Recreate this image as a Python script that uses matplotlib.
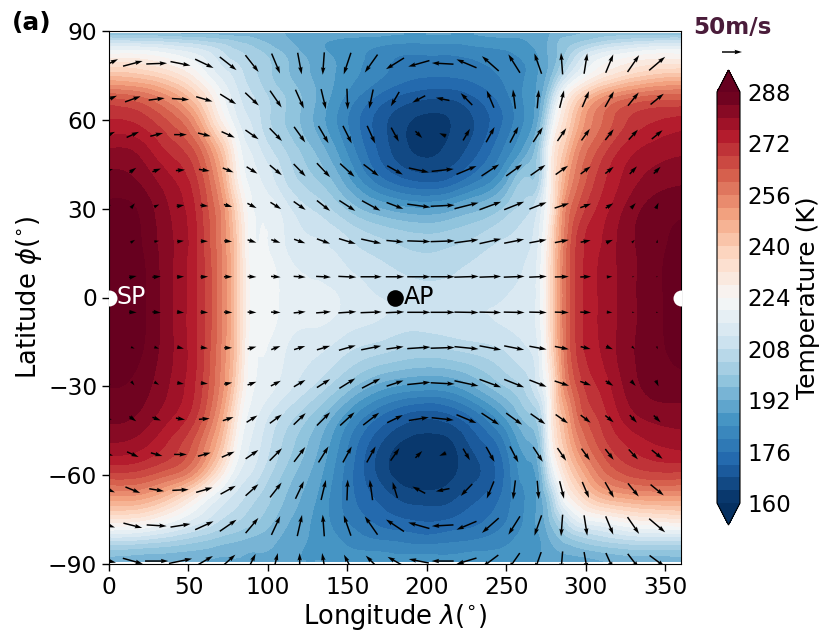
import numpy as np
import matplotlib
matplotlib.use("Agg")
import matplotlib.pyplot as plt
import matplotlib.tri as mtri

# Temperature field (K), read by eye
t_lon = [0,20,40,55,65,75,82,88,95,110,130,150,170,185,200,215,230,250,265,272,278,285,292,305,320,340,360]
t_lat = [89,86,82,76,68,60,50,40,30,20,10,0,-10,-20,-30,-40,-50,-60,-68,-76,-82,-86,-89]
T_n89 = [197,197,196,195,195,194,194,194,193,192,191,190,189,188,188,188,188,189,189,190,192,194,195,197,198,198,197]
T_n86 = [211,210,208,206,204,202,200,199,197,193,189,186,185,184,184,184,185,186,188,190,193,197,199,203,207,210,211]
T_n82 = [224,224,220,216,212,207,205,203,201,196,190,186,182,180,180,180,181,183,186,189,193,198,205,215,220,224,224]
T_n76 = [240,238,232,224,217,212,209,206,203,197,191,186,181,178,177,177,178,181,185,189,194,204,213,224,231,237,239]
T_n68 = [262,259,250,238,227,217,212,209,206,200,192,183,175,171,169,169,172,179,186,191,203,221,232,246,255,260,261]
T_n60 = [272,270,262,250,235,222,215,212,208,200,191,180,170,165,163,164,168,177,186,195,213,230,241,256,265,271,273]
T_n50 = [280,278,270,262,250,234,221,216,212,204,195,183,171,165,163,165,170,181,192,204,224,238,249,262,271,277,279]
T_n40 = [285,283,276,268,257,240,225,219,216,208,200,189,177,172,170,172,178,190,200,206,226,243,255,267,275,281,283]
T_n30 = [289,287,279,271,261,247,232,222,219,214,207,199,192,189,188,190,194,201,207,215,228,249,261,271,278,285,287]
T_n20 = [290,288,280,272,262,249,235,223,220,216,212,208,204,202,201,202,204,208,211,218,233,252,265,274,280,286,289]
T_n10 = [291,289,280,272,263,250,236,224,221,218,215,212,209,207,206,207,209,211,213,220,235,254,266,275,280,286,290]
T_000 = [291,289,280,272,263,250,236,224,221,219,217,215,212,211,210,210,211,212,214,220,235,254,266,275,280,286,290]
T_s10 = [291,289,280,272,263,250,236,224,221,218,216,213,211,209,209,210,211,212,214,220,235,254,266,275,280,286,290]
T_s20 = [290,288,280,272,262,249,235,223,220,216,212,207,203,201,200,201,203,207,211,218,233,252,265,274,280,286,289]
T_s30 = [288,286,279,271,261,247,232,222,219,214,207,198,190,187,186,187,192,200,207,215,228,249,261,271,278,285,286]
T_s40 = [285,283,276,268,257,241,226,219,215,207,198,186,176,171,169,171,177,189,199,206,226,243,255,267,275,281,282]
T_s50 = [279,277,270,261,250,234,221,216,212,203,193,180,168,163,162,163,169,180,191,200,222,238,249,262,270,275,277]
T_s60 = [266,265,259,249,236,222,215,212,208,199,190,178,167,162,161,163,167,177,186,194,212,228,239,253,262,266,266]
T_s68 = [249,248,238,226,218,212,209,206,203,196,188,178,171,167,166,167,171,178,185,191,201,218,228,240,246,249,249]
T_s76 = [228,226,219,213,209,205,203,201,199,193,187,180,175,173,172,173,175,180,186,190,196,204,212,218,222,226,228]
T_s82 = [208,207,204,201,199,197,196,195,194,191,187,183,180,179,178,179,180,183,186,188,192,196,199,203,206,208,208]
T_s86 = [198,197,196,195,194,193,193,192,192,190,187,185,184,183,183,183,184,185,187,188,190,192,193,195,197,198,198]
T_s89 = [194,193,192,192,191,191,191,190,190,189,188,187,186,186,186,186,186,187,187,188,189,190,190,191,193,193,194]
T_rows = [T_n89,T_n86,T_n82,T_n76,T_n68,T_n60,T_n50,T_n40,T_n30,T_n20,T_n10,T_000,
          T_s10,T_s20,T_s30,T_s40,T_s50,T_s60,T_s68,T_s76,T_s82,T_s86,T_s89]

# Wind field (m/s), read by eye from the arrows
w_lon = [0,15,30,45,60,75,90,105,120,135,150,165,180,195,210,225,240,255,270,285,300,315,330,345]
w_lat = [79,67,55,43,31,19,7,-5,-17,-29,-41,-53,-65,-77,-89]
U_79 = [45,49,52,50,46,42,33,21,10,-4,-18,-32,-45,-53,-54,-50,-42,-29,-18,-4,8,19,29,40]
V_79 = [22,13,2,-10,-22,-33,-42,-50,-54,-56,-54,-45,-28,-15,3,21,37,46,51,54,51,46,42,34]
U_67 = [40,39,40,43,41,40,34,29,21,12,2,-10,-21,-32,-34,-29,-18,-6,4,11,17,22,27,33]
V_67 = [17,14,5,-3,-12,-25,-32,-42,-47,-50,-52,-48,-36,-17,7,30,43,48,46,44,40,39,33,27]
U_55 = [30,31,32,32,32,33,33,31,28,25,22,20,19,17,-17,17,21,21,24,22,21,21,23,27]
V_55 = [14,14,8,0,-8,-15,-23,-32,-39,-43,-44,-44,-35,-17,7,29,38,40,37,32,29,27,25,22]
U_43 = [20,17,21,23,27,27,27,30,30,33,36,38,39,50,55,50,44,40,37,31,25,21,18,17]
V_43 = [6,12,8,2,-4,-11,-17,-25,-31,-35,-33,-29,-22,-11,6,21,29,29,26,22,19,17,19,17]
U_31 = [10,10,13,19,20,21,23,27,30,33,40,46,42,58,60,60,54,50,43,36,27,19,12,7]
V_31 = [4,12,6,3,-2,-6,-12,-17,-21,-26,-26,-25,-16,-8,3,15,20,20,17,12,10,12,13,15]
U_19 = [5,11,12,17,18,20,22,23,28,33,42,50,43,58,60,60,54,50,43,35,25,17,7,1]
V_19 = [1,7,2,2,0,-2,-7,-8,-10,-12,-13,-11,-4,-2,2,8,12,10,8,7,5,7,7,8]
U_07 = [5,19,21,18,19,21,22,24,30,37,45,53,46,58,60,61,54,52,44,35,27,14,5,4]
V_07 = [0,4,2,1,1,0,-1,-2,-2,-2,-2,0,0,0,0,2,2,2,2,1,1,1,0,0]
U_s05 = [6,19,21,18,19,21,22,24,30,37,45,53,46,58,60,60,54,52,44,35,27,14,6,5]
V_s05 = [0,-1,-2,-2,-1,-1,-1,-1,3,3,3,2,2,0,0,-1,-1,-1,-1,-1,-1,-1,0,0]
U_s17 = [5,9,12,17,18,20,22,23,28,33,42,50,43,58,60,60,54,50,43,35,25,17,7,2]
V_s17 = [-2,-4,-4,-4,-2,0,6,9,9,10,12,10,6,4,2,-6,-10,-10,-8,-7,-6,-7,-7,-7]
U_s29 = [8,8,12,17,18,20,22,25,29,33,40,46,42,58,60,60,54,50,43,36,27,19,12,7]
V_s29 = [-6,-10,-7,-3,-2,4,8,13,17,21,25,24,14,6,-3,-13,-20,-20,-17,-12,-10,-12,-13,-15]
U_s41 = [14,17,21,23,27,27,27,30,30,33,36,40,39,50,55,50,44,40,37,31,25,21,18,17]
V_s41 = [-4,-12,-8,-4,2,9,17,22,29,33,33,31,19,8,-6,-21,-29,-29,-26,-22,-19,-17,-19,-17]
U_s53 = [20,29,29,32,32,32,32,31,28,25,22,22,22,17,-17,17,21,21,24,22,21,21,23,27]
V_s53 = [-6,-13,-8,0,9,14,22,31,37,40,40,40,31,17,-7,-29,-38,-40,-37,-32,-29,-27,-25,-22]
U_s65 = [30,37,37,41,41,38,32,29,21,12,2,-7,-12,-32,-34,-29,-18,-6,4,11,17,22,27,33]
V_s65 = [-12,-15,-6,2,12,21,29,37,44,50,52,51,40,17,-7,-30,-43,-48,-46,-44,-40,-39,-33,-27]
U_s77 = [30,47,50,50,46,42,32,22,12,-4,-18,-32,-45,-53,-54,-50,-42,-29,-18,-4,8,19,29,40]
V_s77 = [-10,-12,-3,8,21,29,38,47,53,54,51,46,30,15,-3,-21,-37,-46,-51,-54,-51,-46,-42,-34]
U_s89 = [35,50,58,58,43,36,18,10,0,-7,-17,-27,-37,-50,-55,-50,-40,-28,-16,-4,8,18,28,38]
V_s89 = [-8,-14,0,12,25,32,36,40,40,40,32,27,21,10,0,-15,-30,-40,-45,-48,-45,-40,-36,-28]
U_rows = [U_79,U_67,U_55,U_43,U_31,U_19,U_07,U_s05,U_s17,U_s29,U_s41,U_s53,U_s65,U_s77,U_s89]
V_rows = [V_79,V_67,V_55,V_43,V_31,V_19,V_07,V_s05,V_s17,V_s29,V_s41,V_s53,V_s65,V_s77,V_s89]

x_ticks = [0,50,100,150,200,250,300,350]
y_ticks = [-90,-60,-30,0,30,60,90]
y_tick_labels = ['\u221290','\u221260','\u221230','0','30','60','90']
cbar_ticks = [160,176,192,208,224,240,256,272,288]
key_speed = 50

W, H = 831, 643
fig = plt.figure(figsize=(W/100, H/100), dpi=100)
ax = fig.add_axes([109/W, 1-564/H, 572/W, 533/H])

levels = np.arange(160, 289, 4)
# matplotlib's own triangulation refiner gives the field smooth contours
LON, LAT = np.meshgrid(t_lon, t_lat)
ny, nx = LON.shape
idx = np.arange(nx*ny).reshape(ny, nx)
a, b, c, d = idx[:-1, :-1].ravel(), idx[:-1, 1:].ravel(), idx[1:, 1:].ravel(), idx[1:, :-1].ravel()
tris = np.vstack([np.c_[a, d, b], np.c_[b, d, c]])
tri = mtri.Triangulation(LON.ravel(), LAT.ravel(), tris)
refiner = mtri.UniformTriRefiner(tri)
tri_f, T_f = refiner.refine_field(np.array(T_rows, dtype=float).ravel(), subdiv=3)
cf = ax.tricontourf(tri_f, T_f, levels=levels, cmap='RdBu_r', extend='both')
cf.set_edgecolor('face')
cf.set_linewidth(0.4)

Q = ax.quiver(w_lon, w_lat, np.array(U_rows, dtype=float), np.array(V_rows, dtype=float),
              pivot='mid', scale=250, scale_units='inches', width=0.0026,
              headwidth=3, headlength=5, color='black', zorder=3)

ax.plot([0, 360], [0, 0], 'o', color='white', ms=11.5, zorder=4, clip_on=True, mec='none')
ax.plot([180], [0], 'o', color='black', ms=12, zorder=4, mec='none')
ax.text(5, 0, 'SP', color='white', fontsize=17, va='center', ha='left', zorder=5)
ax.text(185.5, 0, 'AP', color='black', fontsize=17, va='center', ha='left', zorder=5)

ax.set_xlim(0, 360)
ax.set_ylim(-90, 90)
ax.set_xticks(x_ticks)
ax.set_yticks(y_ticks)
ax.set_yticklabels(y_tick_labels)
ax.tick_params(labelsize=16.8, length=5, width=1)
ax.set_xlabel(r'Longitude $\lambda(^{\circ})$', fontsize=18.5, labelpad=2)
ax.set_ylabel(r'Latitude $\phi(^{\circ})$', fontsize=18.5, labelpad=3)

cax = fig.add_axes([717/W, 1-525/H, 23/W, 455/H])
cb = fig.colorbar(cf, cax=cax, extend='both', extendfrac=22/413, ticks=cbar_ticks)
cb.ax.tick_params(labelsize=16.5, length=0, pad=5)
cb.set_label('Temperature (K)', fontsize=18, labelpad=4)

ax.quiverkey(Q, 732/W, 1-52/H, key_speed, '', coordinates='figure', labelpos='N')
fig.text(732/W, 1-28/H, '50m/s', color='#4a1c3a', fontweight='bold', fontsize=16.6,
         ha='center', va='center')
fig.text(12/W, 1-23/H, '(a)', fontweight='bold', fontsize=17.8, ha='left', va='center')

fig.savefig('out.png', dpi=100)
